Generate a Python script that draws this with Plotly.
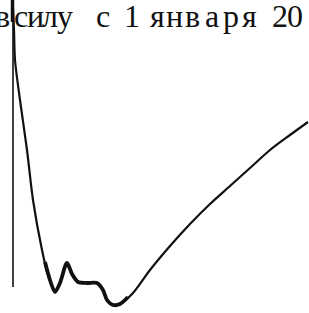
import plotly.graph_objects as go

W, H = 309, 313

# Header text (scanned document line)
header_text = "в силу с 1 января 20"
# Horizontal centre of each visible glyph, as measured on the scan
glyph_centers = [2, 21, 35.5, 50, 65, 102.5, 131.5, 157.5, 174.5, 192.5, 211.5, 230.5, 249.5, 280, 295]

# Curve (pixel-like coordinates, y grows downward)
curve_x = [13, 14, 15, 20, 27, 33, 42, 48, 55, 60, 67, 72, 78, 87, 97, 103, 107, 113, 120, 133, 150, 170, 190, 210, 230, 250, 270, 290, 308]
curve_y = [8, 30, 60, 100, 150, 200, 250, 275, 292, 283, 263, 274, 282, 283, 283, 290, 300, 305, 304, 293, 270, 246, 224, 204, 186, 168, 150, 135, 122]

# Thick bottom part of the curve
bottom_x = [45, 50, 55, 60, 67, 72, 78, 87, 97, 103, 107, 113, 120, 128]
bottom_y = [262, 280, 292, 283, 263, 274, 282, 283, 283, 290, 300, 305, 304, 297]

# Vertical rule
rule_x = [13, 13]
rule_y = [0, 287]
bar_x = [12.5, 12.5]
bar_y = [0, 22]

ink = "#111111"

fig = go.Figure()
fig.add_trace(go.Scatter(x=rule_x, y=rule_y, mode="lines", line=dict(color=ink, width=1.6), hoverinfo="skip"))
fig.add_trace(go.Scatter(x=bar_x, y=bar_y, mode="lines", line=dict(color=ink, width=3.5), hoverinfo="skip"))
fig.add_trace(go.Scatter(x=curve_x, y=curve_y, mode="lines", line=dict(color=ink, width=2.2, shape="spline", smoothing=0.8), hoverinfo="skip"))
fig.add_trace(go.Scatter(x=bottom_x, y=bottom_y, mode="lines", line=dict(color=ink, width=3.8, shape="spline", smoothing=0.8), hoverinfo="skip"))

glyphs = [c for c in header_text if c != " "]
for ch, cx in zip(glyphs, glyph_centers):
    fig.add_annotation(x=cx / W, y=1 - 34 / H, text=ch, showarrow=False, xanchor="center", yanchor="bottom",
                       xref="paper", yref="paper", borderpad=0, borderwidth=0,
                       font=dict(family="Liberation Serif", size=32, color=ink))

fig.update_layout(
    width=W, height=H,
    margin=dict(l=0, r=0, t=0, b=0),
    paper_bgcolor="white", plot_bgcolor="white",
    showlegend=False,
    xaxis=dict(range=[0, W], visible=False, fixedrange=True),
    yaxis=dict(range=[H, 0], visible=False, fixedrange=True),
)

fig.write_html("out.html", config={"displayModeBar": False},
               post_script="document.body.style.margin='0';document.body.style.overflow='hidden';")
